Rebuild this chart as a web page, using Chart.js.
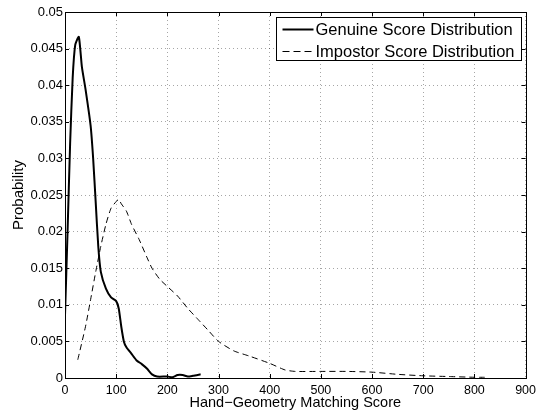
<!DOCTYPE html>
<html>
<head>
<meta charset="utf-8">
<script src="https://cdn.jsdelivr.net/npm/chart.js@4.4.0/dist/chart.umd.min.js"></script>
<style>
  html, body { margin: 0; padding: 0; background: #fff; }
  #wrap { width: 541px; height: 418px; }
</style>
</head>
<body>
<div id="wrap"><canvas id="chart" width="541" height="418"></canvas></div>
<script>
// Values
const genuineScores = [0, 5, 10, 15, 20, 27, 33, 40, 50, 55, 60, 65, 70, 80, 90, 100, 105, 110, 115, 120, 130, 140, 150, 160, 170, 180, 200, 210, 220, 230, 240, 250, 265];
const genuineProb = [0.0085, 0.02, 0.032, 0.041, 0.0455, 0.0466, 0.0425, 0.0395, 0.0345, 0.030, 0.024, 0.018, 0.0145, 0.0122, 0.011, 0.0105, 0.0095, 0.007, 0.005, 0.0042, 0.0033, 0.0024, 0.0019, 0.0013, 0.0005, 0.0002, 0.0002, 0.0001, 0.0004, 0.0004, 0.0002, 0.0003, 0.0005];

const impostorScores = [25, 40, 50, 60, 70, 80, 90, 100, 105, 110, 120, 130, 145, 160, 170, 185, 200, 220, 240, 260, 280, 300, 330, 360, 400, 430, 450, 500, 550, 600, 650, 700, 750, 800, 820];
const impostorProb = [0.0025, 0.007, 0.0107, 0.0145, 0.018, 0.021, 0.0232, 0.0241, 0.0244, 0.0238, 0.0228, 0.021, 0.0189, 0.0165, 0.015, 0.0135, 0.0125, 0.0112, 0.0095, 0.008, 0.0065, 0.005, 0.0037, 0.003, 0.002, 0.0011, 0.0009, 0.0009, 0.0009, 0.0008, 0.0005, 0.0003, 0.0002, 0.0001, 0.0001];

const xTicks = [0, 100, 200, 300, 400, 500, 600, 700, 800, 900];
const yTicks = [0, 0.005, 0.01, 0.015, 0.02, 0.025, 0.03, 0.035, 0.04, 0.045, 0.05];

const seriesLabels = ['Genuine Score Distribution', 'Impostor Score Distribution'];

const FONT = 'Liberation Sans, Arial, Helvetica, sans-serif';

const toPoints = (xs, ys) => xs.map((x, i) => ({ x: x, y: ys[i] }));

// Box around the axes, inward ticks and the legend, MATLAB style
const matlabFrame = {
    id: 'matlabFrame',
    afterDraw(chart) {
        const ctx = chart.ctx;
        const area = chart.chartArea;
        const xs = chart.scales.x;
        const ys = chart.scales.y;
        ctx.save();
        ctx.strokeStyle = '#000';
        ctx.lineWidth = 1;
        ctx.setLineDash([]);
        ctx.strokeRect(Math.round(area.left) + 0.5, Math.round(area.top) + 0.5,
            Math.round(area.right - area.left), Math.round(area.bottom - area.top));

        const tick = 4;
        ctx.beginPath();
        xTicks.forEach(v => {
            const px = Math.round(xs.getPixelForValue(v)) + 0.5;
            ctx.moveTo(px, area.bottom);
            ctx.lineTo(px, area.bottom - tick);
            ctx.moveTo(px, area.top);
            ctx.lineTo(px, area.top + tick);
        });
        yTicks.forEach(v => {
            const py = Math.round(ys.getPixelForValue(v)) + 0.5;
            ctx.moveTo(area.left, py);
            ctx.lineTo(area.left + tick, py);
            ctx.moveTo(area.right, py);
            ctx.lineTo(area.right - tick, py);
        });
        ctx.stroke();

        // legend
        const bx = Math.round(area.right) - 249.5;
        const by = Math.round(area.top) + 5.5;
        const bw = 245;
        const bh = 43;
        ctx.fillStyle = '#fff';
        ctx.fillRect(bx, by, bw, bh);
        ctx.strokeRect(bx, by, bw, bh);
        ctx.font = '16.5px ' + FONT;
        ctx.fillStyle = '#000';
        ctx.textBaseline = 'middle';
        chart.data.datasets.forEach((ds, i) => {
            const ly = by + 12 + i * 22;
            ctx.beginPath();
            ctx.lineWidth = ds.borderWidth;
            ctx.setLineDash(ds.borderDash ? [7, 4] : []);
            ctx.moveTo(bx + 6, ly);
            ctx.lineTo(bx + 37, ly);
            ctx.stroke();
            ctx.setLineDash([]);
            ctx.fillText(ds.label, bx + 39, ly + 1);
        });
        ctx.restore();
    }
};

const ctx = document.getElementById('chart').getContext('2d');
new Chart(ctx, {
    type: 'scatter',
    data: {
        datasets: [
            {
                label: seriesLabels[0],
                data: toPoints(genuineScores, genuineProb),
                showLine: true,
                borderColor: '#000',
                borderWidth: 2,
                pointRadius: 0,
                tension: 0.2,
                fill: false
            },
            {
                label: seriesLabels[1],
                data: toPoints(impostorScores, impostorProb),
                showLine: true,
                borderColor: '#000',
                borderWidth: 1,
                borderDash: [6, 4],
                pointRadius: 0,
                tension: 0.2,
                fill: false
            }
        ]
    },
    options: {
        responsive: false,
        animation: false,
        layout: { padding: { top: 12, right: 10, left: 0, bottom: 0 } },
        plugins: {
            legend: { display: false },
            tooltip: { enabled: false }
        },
        scales: {
            x: {
                type: 'linear',
                min: 0,
                max: 900,
                afterBuildTicks: (scale) => { scale.ticks = xTicks.map(v => ({ value: v })); },
                afterFit: (scale) => { scale.height = 40; },
                grid: { color: 'rgba(0,0,0,0.35)', lineWidth: 1, drawTicks: false },
                border: { display: false, dash: [1, 3] },
                ticks: {
                    color: '#000',
                    padding: 5,
                    maxRotation: 0,
                    font: { family: FONT, size: 12.5 }
                },
                title: {
                    display: true,
                    text: 'Hand\u2212Geometry Matching Score',
                    color: '#000',
                    padding: { top: 0, bottom: 6 },
                    font: { family: FONT, size: 14.5 }
                }
            },
            y: {
                type: 'linear',
                min: 0,
                max: 0.05,
                afterBuildTicks: (scale) => { scale.ticks = yTicks.map(v => ({ value: v })); },
                afterFit: (scale) => { scale.width = 65; },
                grid: { color: 'rgba(0,0,0,0.35)', lineWidth: 1, drawTicks: false },
                border: { display: false, dash: [1, 3] },
                ticks: {
                    color: '#000',
                    padding: 2,
                    font: { family: FONT, size: 13 },
                    callback: (v) => String(parseFloat(Number(v).toFixed(3)))
                },
                title: {
                    display: true,
                    text: 'Probability',
                    color: '#000',
                    padding: { top: 10, bottom: 0 },
                    font: { family: FONT, size: 15 }
                }
            }
        }
    },
    plugins: [matlabFrame]
});
</script>
</body>
</html>
